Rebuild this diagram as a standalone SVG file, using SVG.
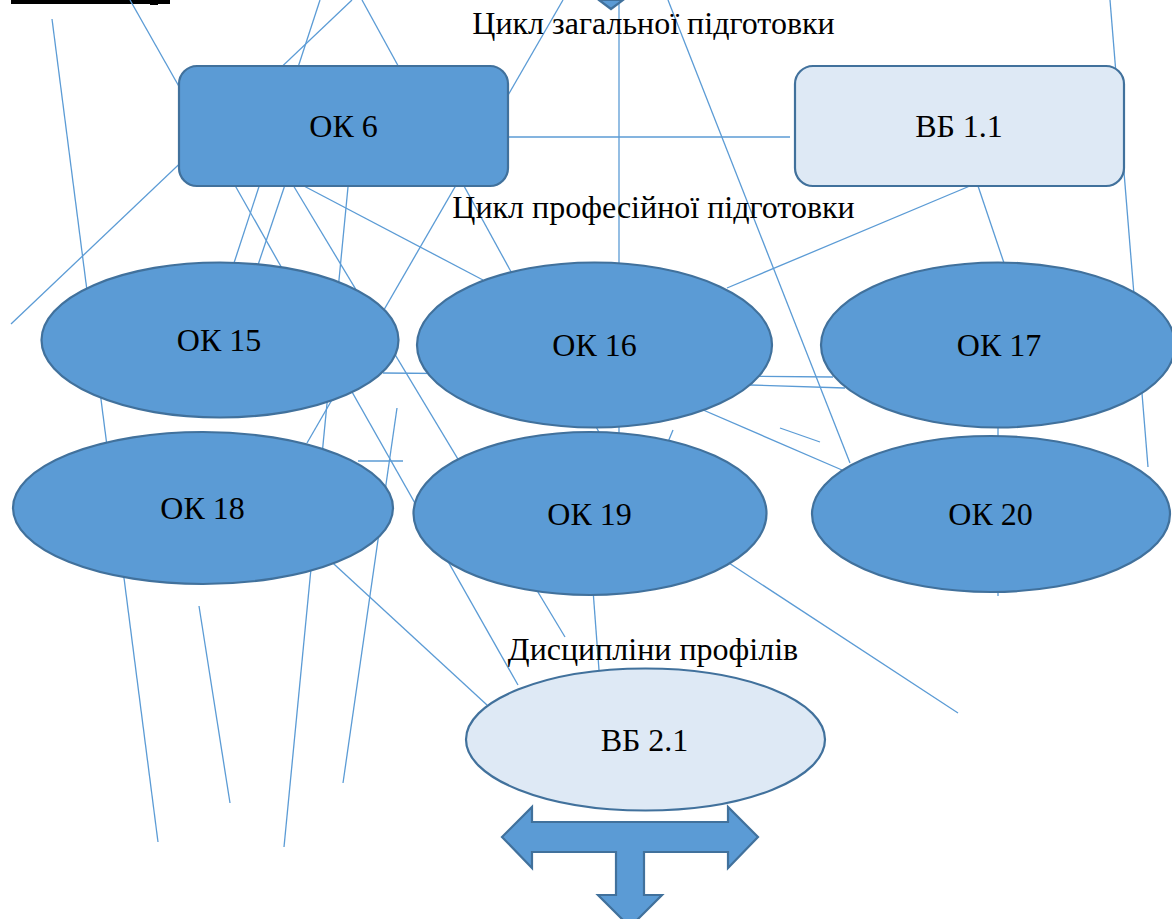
<svg xmlns="http://www.w3.org/2000/svg" width="1172" height="919" viewBox="0 0 1172 919">
<style>
.ln{stroke:#5b9bd5;stroke-width:1.3;fill:none}
.dk{fill:#5b9bd5;stroke:#41719c;stroke-width:2.2}
.lt{fill:#dee9f5;stroke:#41719c;stroke-width:2.2}
text{font-family:"Liberation Serif",serif;font-size:32px;fill:#000;text-anchor:middle}
</style>
<rect x="0" y="0" width="1172" height="919" fill="#fff"/>
<rect x="11" y="0" width="159" height="4" fill="#000"/>
<rect x="150" y="0" width="8" height="5" fill="#000"/>
<g id="connectors">
<line class="ln" x1="52" y1="19" x2="158" y2="842"/>
<line class="ln" x1="130" y1="0" x2="518" y2="685"/>
<line class="ln" x1="320" y1="0" x2="234" y2="263"/>
<line class="ln" x1="352" y1="0" x2="11" y2="324"/>
<line class="ln" x1="362" y1="0" x2="600" y2="434"/>
<line class="ln" x1="563" y1="0" x2="307" y2="443"/>
<line class="ln" x1="619" y1="0" x2="619" y2="436"/>
<line class="ln" x1="668" y1="0" x2="850" y2="463"/>
<line class="ln" x1="508" y1="137" x2="790" y2="137"/>
<line class="ln" x1="1110" y1="0" x2="1148" y2="467"/>
<line class="ln" x1="977" y1="183" x2="727" y2="288"/>
<line class="ln" x1="977" y1="183" x2="1004" y2="263"/>
<line class="ln" x1="383" y1="373" x2="833" y2="377"/>
<line class="ln" x1="750" y1="385" x2="845" y2="388"/>
<line class="ln" x1="290" y1="170" x2="258" y2="265"/>
<line class="ln" x1="293" y1="185" x2="565" y2="637"/>
<line class="ln" x1="302" y1="185" x2="483" y2="280"/>
<line class="ln" x1="348" y1="187" x2="284" y2="847"/>
<line class="ln" x1="397" y1="408" x2="343" y2="783"/>
<line class="ln" x1="358" y1="461" x2="403" y2="461"/>
<line class="ln" x1="297" y1="530" x2="487" y2="705"/>
<line class="ln" x1="593" y1="590" x2="599" y2="670"/>
<line class="ln" x1="700" y1="544" x2="958" y2="713"/>
<line class="ln" x1="780" y1="428" x2="820" y2="442"/>
<line class="ln" x1="680" y1="400" x2="842" y2="470"/>
<line class="ln" x1="998" y1="345" x2="998" y2="596"/>
<line class="ln" x1="199" y1="606" x2="230" y2="803"/>
<line class="ln" x1="673" y1="430" x2="668" y2="442"/>
</g>
<polygon class="dk" points="599,0 611,9 623,0"/>
<text x="653.5" y="34">Цикл загальної підготовки</text>
<text x="653.5" y="218">Цикл професійної підготовки</text>
<text x="653" y="660">Дисципліни профілів</text>
<g id="ok6"><rect class="dk" x="179" y="66" width="329" height="120" rx="18"/><text x="343.5" y="137">ОК 6</text></g>
<g id="vb11"><rect class="lt" x="795" y="66" width="329" height="120" rx="18"/><text x="959" y="137">ВБ 1.1</text></g>
<g id="ok15"><ellipse class="dk" cx="220" cy="340" rx="178.5" ry="77.5"/><text x="219" y="351">ОК 15</text></g>
<g id="ok16"><ellipse class="dk" cx="594.5" cy="345" rx="177.5" ry="82.5"/><text x="594.5" y="356">ОК 16</text></g>
<g id="ok17"><ellipse class="dk" cx="998" cy="345" rx="177" ry="82.5"/><text x="999" y="356">ОК 17</text></g>
<g id="ok18"><ellipse class="dk" cx="203" cy="508" rx="190" ry="76"/><text x="202.5" y="519">ОК 18</text></g>
<g id="ok19"><ellipse class="dk" cx="590" cy="513.5" rx="176.5" ry="81.5"/><text x="589.5" y="525">ОК 19</text></g>
<g id="ok20"><ellipse class="dk" cx="991" cy="514" rx="179" ry="78"/><text x="990.5" y="525">ОК 20</text></g>
<g id="vb21"><ellipse class="lt" cx="645.5" cy="739.5" rx="179.5" ry="71"/><text x="644.5" y="751">ВБ 2.1</text></g>
<g id="arrow"><polygon class="dk" points="502,837 532,807 532,822 728,822 728,807 758,837 728,868 728,852 644,852 644,895 662,895 630,927 598,895 616,895 616,852 532,852 532,868"/></g>
</svg>
